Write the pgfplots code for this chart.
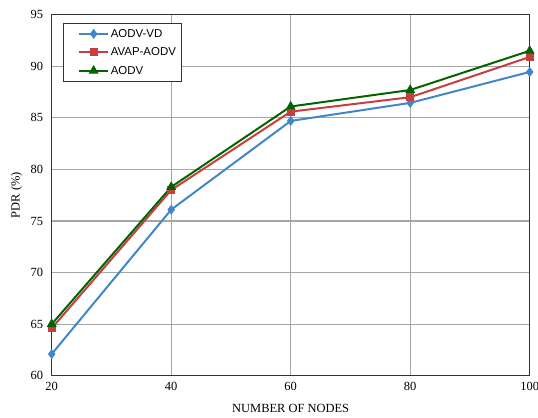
\documentclass[border=0pt]{standalone}
\usepackage{pgfplots}
\pgfplotsset{compat=1.18}
\usepackage{fontspec}
\setmainfont{Liberation Serif}
\newfontfamily\legendfont{Liberation Sans}
\definecolor{cblue}{RGB}{66,134,202}
\definecolor{cred}{RGB}{200,62,62}
\definecolor{cgreen}{RGB}{0,100,0}
\begin{document}
\begin{tikzpicture}
\begin{axis}[
    name=main,
    scale only axis,
    width=478bp,
    height=361bp,
    xmin=20, xmax=100,
    ymin=60, ymax=95,
    xtick={20,40,60,80,100},
    ytick={60,65,...,95},
    grid=major,
    grid style={black!35, line width=1.1pt},
    axis line style={black!80, line width=1.1pt},
    tick style={draw=none},
    tick label style={font=\fontsize{12.5}{14}\selectfont},
    yticklabel style={xshift=-5bp},
    xticklabel style={yshift=-3bp},
    /pgf/number format/assume math mode=true,
    xlabel={NUMBER OF NODES},
    ylabel={PDR (\%)},
    label style={font=\fontsize{12.5}{14}\selectfont},
    xlabel style={at={(axis description cs:0.5,0)}, anchor=center, yshift=-33bp},
    ylabel style={at={(axis description cs:0,0.5)}, anchor=center, yshift=35bp},
    legend style={at={(axis description cs:0,1)}, anchor=north west, xshift=11bp, yshift=-8bp,
        draw=black!80, line width=0.9pt,
        font=\legendfont\fontsize{11.5}{13}\selectfont, row sep=5pt, inner xsep=4pt, inner ysep=4pt},
    legend cell align=left,
    legend image code/.code={
        \path (-0.4cm,0cm);
        \draw[mark repeat=2, mark phase=2] plot coordinates {(0cm,0cm) (0.5cm,0cm) (1cm,0cm)};
    },
]
\addplot[cblue, line width=2pt, mark=diamond*, mark size=3.4pt] coordinates {
    (20,62.1) (40,76.1) (60,84.7) (80,86.45) (100,89.45)
};
\addlegendentry{AODV-VD}
\addplot[cred, line width=2pt, mark=square*, mark size=3pt] coordinates {
    (20,64.6) (40,78.0) (60,85.6) (80,87.0) (100,90.9)
};
\addlegendentry{AVAP-AODV}
\addplot[cgreen, line width=2pt, mark=triangle*, mark size=3.8pt] coordinates {
    (20,65.0) (40,78.3) (60,86.1) (80,87.7) (100,91.5)
};
\addlegendentry{AODV}
\end{axis}
\pgfresetboundingbox
\path[use as bounding box] ([xshift=-51.7bp, yshift=-42bp]main.south west) rectangle ([xshift=8.3bp, yshift=14.7bp]main.north east);
\end{tikzpicture}
\end{document}
